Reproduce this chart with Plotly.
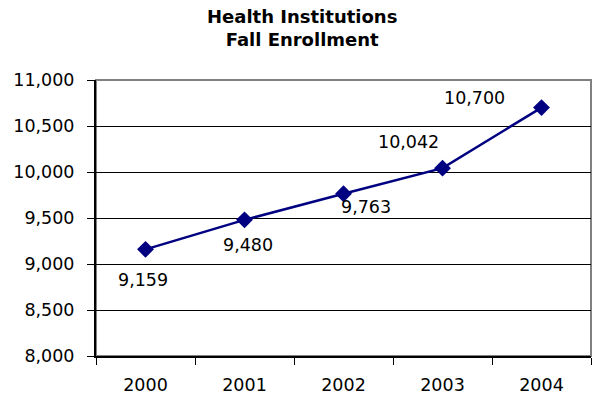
import plotly.graph_objects as go

# Datos del gráfico
years = ["2000", "2001", "2002", "2003", "2004"]
enrollment = [9159, 9480, 9763, 10042, 10700]
y_ticks = [8000, 8500, 9000, 9500, 10000, 10500, 11000]

# desplazamiento de las etiquetas (px) respecto al punto
label_shift = [(-3, -31), (3, -25), (22, -13), (-34, 26), (-67, 10)]

NAVY = "#000080"
FONT = "DejaVu Sans"

fig = go.Figure()
fig.add_trace(go.Scatter(
    x=years, y=enrollment, mode="lines+markers",
    line=dict(color=NAVY, width=2.5),
    marker=dict(symbol="diamond", size=13, color=NAVY),
    hoverinfo="x+y", showlegend=False))

# en eje de categorías la anotación va por índice
for i, (val, (dx, dy)) in enumerate(zip(enrollment, label_shift)):
    fig.add_annotation(x=i, y=val, text=f"{val:,}", showarrow=False,
                       xshift=dx, yshift=dy,
                       font=dict(family=FONT, size=17.5, color="black"))

fig.add_annotation(text="<b>Health Institutions<br>Fall Enrollment</b>",
                   xref="paper", yref="paper", x=0.416, y=1.0, yshift=76,
                   xanchor="center", yanchor="top", showarrow=False,
                   font=dict(family=FONT, size=18, color="black"))

# borde gris del área de trazado
fig.add_shape(type="rect", xref="paper", yref="paper", x0=0, y0=0, x1=1, y1=1,
              line=dict(color="#808080", width=2), layer="below")

fig.update_layout(
    width=593, height=405,
    margin=dict(l=96, r=2, t=80, b=49),
    paper_bgcolor="white", plot_bgcolor="white",
    font=dict(family=FONT, size=17.5, color="black"),
)
fig.update_xaxes(type="category", range=[-0.5, len(years) - 0.5],
                 tickson="boundaries", ticks="outside",
                 ticklen=7, tickcolor="black", showline=True, linecolor="black",
                 linewidth=2, showgrid=False, ticklabelstandoff=12,
                 tickangle=0, automargin=False,
                 tickfont=dict(family=FONT, size=17.5))
fig.update_yaxes(range=[8000, 11000], tickvals=y_ticks, tickformat=",",
                 ticks="outside", ticklen=7, tickcolor="black",
                 showline=True, linecolor="black", linewidth=2,
                 showgrid=True, gridcolor="black", gridwidth=1,
                 zeroline=False, automargin=False, ticklabelstandoff=9,
                 tickfont=dict(family=FONT, size=17.5))

# sin el margen por defecto del <body>
fig.write_html("out.html", config={"displayModeBar": False},
               post_script="document.body.style.margin='0';")
